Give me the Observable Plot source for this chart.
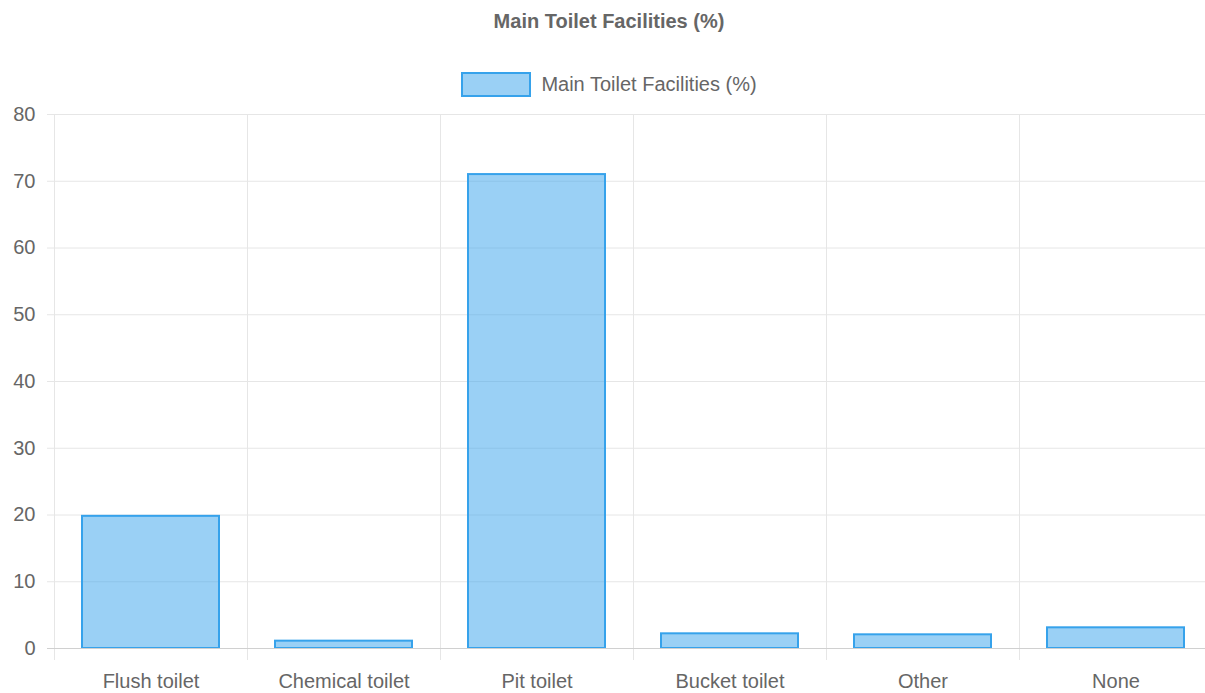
<!DOCTYPE html>
<html>
<head>
<meta charset="utf-8">
<script src="https://cdn.jsdelivr.net/npm/d3@7"></script>
<script src="https://cdn.jsdelivr.net/npm/@observablehq/plot@0.6"></script>
<style>
  html, body { margin: 0; padding: 0; background: #fff; overflow: hidden; }
  #wrap { width: 1218px; font-family: "Liberation Sans", Arial, sans-serif; color: #666; }
  #title { height: 42px; line-height: 42px; text-align: center; font-weight: bold; font-size: 20px; color: #666; }
  #legend { height: 62px; display: flex; justify-content: center; align-items: center; font-size: 20px; color: #666; padding-top: 22px; box-sizing: border-box; }
  #legend .box { width: 66px; height: 21px; background: rgba(54,162,235,0.5); border: 2px solid #36A2EB; margin-right: 10px; }
  svg text { font-family: "Liberation Sans", Arial, sans-serif; }
</style>
</head>
<body>
<div id="wrap">
  <div id="title">Main Toilet Facilities (%)</div>
  <div id="legend"><span class="box"></span><span class="lab">Main Toilet Facilities (%)</span></div>
  <div id="chart"></div>
</div>
<script>
const categories = ["Flush toilet", "Chemical toilet", "Pit toilet", "Bucket toilet", "Other", "None"];
const values = [19.8, 1.1, 71.0, 2.2, 2.05, 3.1];
const yTicks = [0, 10, 20, 30, 40, 50, 60, 70, 80];
const seriesName = "Main Toilet Facilities (%)";

const data = categories.map((c, i) => ({category: c, value: values[i]}));

const W = 1218, ML = 54, MR = 6;
const bw = (W - ML - MR) / categories.length;
const grid = "#e6e6e6";

const chart = Plot.plot({
  width: W,
  height: 589,
  marginTop: 10,
  marginBottom: 45,
  marginLeft: ML,
  marginRight: MR,
  style: {fontSize: "20px", color: "#666", fontFamily: "Liberation Sans, Arial, sans-serif"},
  x: {domain: categories, padding: 0, label: null},
  y: {domain: [0, 80], ticks: yTicks, label: null},
  marks: [
    // horizontal gridlines
    Plot.ruleY(yTicks.filter(d => d !== 0), {stroke: grid, insetLeft: -7}),
    // vertical gridlines at category boundaries
    Plot.ruleX(categories, {x: d => d, y1: 80, y2: 0, dx: -bw / 2, stroke: grid, insetBottom: -12}),
    Plot.ruleX([categories[categories.length - 1]], {x: d => d, y1: 80, y2: 0, dx: bw / 2, stroke: grid, insetBottom: -12}),
    Plot.barY(data, {
      x: "category", y: "value",
      fill: "rgba(54,162,235,0.5)", stroke: "#36A2EB", strokeWidth: 2,
      insetLeft: 28, insetRight: 28
    }),
    Plot.ruleY([0], {stroke: "#d0d0d0", insetLeft: -7}),
    Plot.axisY({ticks: yTicks, tickSize: 0, tickPadding: 19, label: null, fontSize: 20}),
    Plot.axisX({tickSize: 0, tickPadding: 25, label: null, fontSize: 20})
  ]
});
document.getElementById("chart").appendChild(chart);
</script>
</body>
</html>
